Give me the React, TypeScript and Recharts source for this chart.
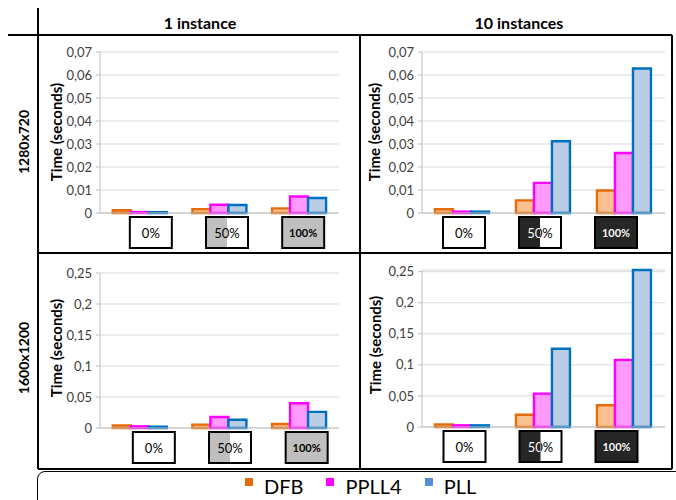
import React from 'react';
import { BarChart, Bar, XAxis, YAxis, CartesianGrid } from 'recharts';

const categories = ['0%', '50%', '100%'];
const seriesNames = ['DFB', 'PPLL4', 'PLL'];
const seriesStroke = ['#E46C0A', '#FF00FF', '#0070C0'];
const seriesFill = ['#FAC090', '#FF99FF', '#B9CDE5'];
const legendColors = ['#E46C0A', '#FF00FF', '#558ED5'];

const columnLabels = ['1 instance', '10 instances'];
const rowLabels = ['1280x720', '1600x1200'];
const axisTitle = 'Time (seconds)';

const ticks1280 = [0, 0.01, 0.02, 0.03, 0.04, 0.05, 0.06, 0.07];
const ticks1600 = [0, 0.05, 0.1, 0.15, 0.2, 0.25];

const dfb1280x1 = [0.0012, 0.0017, 0.002];
const ppll41280x1 = [0.0004, 0.0036, 0.0072];
const pll1280x1 = [0.0004, 0.0035, 0.0065];

const dfb1280x10 = [0.0016, 0.0055, 0.0098];
const ppll41280x10 = [0.0006, 0.0131, 0.0261];
const pll1280x10 = [0.0006, 0.0312, 0.0628];

const dfb1600x1 = [0.0043, 0.0054, 0.0065];
const ppll41600x1 = [0.0027, 0.0177, 0.04];
const pll1600x1 = [0.002, 0.0134, 0.026];

const dfb1600x10 = [0.0043, 0.0197, 0.035];
const ppll41600x10 = [0.0027, 0.0537, 0.108];
const pll1600x10 = [0.0027, 0.126, 0.2527];

const FONT = 'Lato, "Open Sans", sans-serif';

function build(a: number[], b: number[], c: number[]) {
  return categories.map((cat, i) => ({ cat, DFB: a[i], PPLL4: b[i], PLL: c[i] }));
}

const fmt = (v: number) => (v === 0 ? '0' : String(+v.toFixed(3)).replace('.', ','));

const BoxTick = (props: any) => {
  const { x, y, payload, dark, offsets, pid } = props;
  const label = String(payload.value);
  const index = typeof props.index === 'number' ? props.index : categories.indexOf(label);
  const w = 42;
  const h = 31;
  const cx = x + (offsets[index] || 0);
  const left = cx - w / 2;
  const top = y + 4;
  const frac = label === '0%' ? 0 : label === '50%' ? 0.5 : 1;
  const bold = label === '100%';
  const fs = bold ? 11 : 13;
  const fillCol = dark ? '#262626' : '#BFBFBF';
  const clipId = `clip-${pid}-${index}`;
  return (
    <g>
      <rect x={left} y={top} width={w} height={h} fill="#fff" />
      {frac > 0 && <rect x={left} y={top} width={w * frac} height={h} fill={fillCol} />}
      <defs>
        <clipPath id={clipId}>
          <rect x={left} y={top} width={w * frac} height={h} />
        </clipPath>
      </defs>
      <text x={cx} y={top + h / 2} textAnchor="middle" dominantBaseline="central" fontSize={fs}
        fontWeight={bold ? 700 : 400} fill="#000" fontFamily={FONT}>{label}</text>
      {dark && frac > 0 && (
        <text x={cx} y={top + h / 2} textAnchor="middle" dominantBaseline="central" fontSize={fs}
          fontWeight={bold ? 700 : 400} fill="#fff" fontFamily={FONT} clipPath={`url(#${clipId})`}>{label}</text>
      )}
      <rect x={left} y={top} width={w} height={h} fill="none" stroke="#000" strokeWidth={2} />
    </g>
  );
};

type PanelProps = {
  pid: string; left: number; top: number; width: number; height: number;
  margin: { top: number; right: number; bottom: number; left: number };
  data: any[]; ticks: number[]; dark: boolean; offsets: number[];
};

const Panel = ({ pid, left, top, width, height, margin, data, ticks, dark, offsets }: PanelProps) => (
  <div style={{ position: 'absolute', left, top, width, height }}>
    <BarChart width={width} height={height} data={data} margin={margin} barCategoryGap="16%" barGap={0}>
      <CartesianGrid vertical={false} stroke="#D9D9D9" />
      <XAxis dataKey="cat" height={35} axisLine={{ stroke: '#BFBFBF' }} tickLine={false} tickSize={0} tickMargin={0}
        interval={0} tick={<BoxTick dark={dark} offsets={offsets} pid={pid} />} />
      <YAxis width={42} domain={[0, ticks[ticks.length - 1]]} ticks={ticks} tickFormatter={fmt}
        axisLine={{ stroke: '#BFBFBF' }} tickLine={{ stroke: '#BFBFBF' }} tickSize={4} tickMargin={4}
        tick={{ fontSize: 13, fill: '#404040', fontFamily: FONT }} interval={0} />
      {seriesNames.map((s, i) => (
        <Bar key={s} dataKey={s} fill={seriesFill[i]} stroke={seriesStroke[i]} strokeWidth={2.4} isAnimationActive={false} />
      ))}
    </BarChart>
  </div>
);

export default function App() {
  return (
    <div style={{ position: 'absolute', left: 0, top: 0, width: 676, height: 500, background: '#fff', fontFamily: FONT, overflow: 'hidden' }}>
      <Panel pid="tl" left={38} top={36} width={322} height={216}
        margin={{ top: 16, right: 21, bottom: 4, left: 20 }}
        data={build(dfb1280x1, ppll41280x1, pll1280x1)} ticks={ticks1280} dark={false} offsets={[11, 7.5, 4]} />
      <Panel pid="tr" left={361} top={36} width={311} height={216}
        margin={{ top: 16, right: 7, bottom: 4, left: 19 }}
        data={build(dfb1280x10, ppll41280x10, pll1280x10)} ticks={ticks1280} dark={true} offsets={[1.5, -3.5, -8.5]} />
      <Panel pid="bl" left={38} top={254} width={322} height={214}
        margin={{ top: 19, right: 21, bottom: 5, left: 20 }}
        data={build(dfb1600x1, ppll41600x1, pll1600x1)} ticks={ticks1600} dark={false} offsets={[14, 10.5, 7.5]} />
      <Panel pid="br" left={361} top={254} width={311} height={214}
        margin={{ top: 16, right: 7, bottom: 6, left: 19 }}
        data={build(dfb1600x10, ppll41600x10, pll1600x10)} ticks={ticks1600} dark={true} offsets={[2, -3, -8]} />

      <svg width={676} height={500} style={{ position: 'absolute', left: 0, top: 0, pointerEvents: 'none' }}>
        <g stroke="#000" strokeWidth={2} fill="none">
          <path d="M8,35 H672" />
          <path d="M38,8 V469" />
          <path d="M360,35 V469" />
          <path d="M672,35 V469" />
          <path d="M38,253 H672" />
          <path d="M38,469 H672" />
        </g>
        <text x={200} y={22} textAnchor="middle" dominantBaseline="central" fontSize={16} fontWeight={700} fontFamily={FONT}>{columnLabels[0]}</text>
        <text x={519} y={22} textAnchor="middle" dominantBaseline="central" fontSize={16} fontWeight={700} fontFamily={FONT}>{columnLabels[1]}</text>
        <text transform="translate(23,142) rotate(-90)" textAnchor="middle" dominantBaseline="central" fontSize={14} fontWeight={700} fontFamily={FONT}>{rowLabels[0]}</text>
        <text transform="translate(23,358) rotate(-90)" textAnchor="middle" dominantBaseline="central" fontSize={14} fontWeight={700} fontFamily={FONT}>{rowLabels[1]}</text>
        <text transform="translate(56,132) rotate(-90)" textAnchor="middle" dominantBaseline="central" fontSize={15} fontWeight={700} fontFamily={FONT}>{axisTitle}</text>
        <text transform="translate(374,132) rotate(-90)" textAnchor="middle" dominantBaseline="central" fontSize={15} fontWeight={700} fontFamily={FONT}>{axisTitle}</text>
        <text transform="translate(56,348) rotate(-90)" textAnchor="middle" dominantBaseline="central" fontSize={15} fontWeight={700} fontFamily={FONT}>{axisTitle}</text>
        <text transform="translate(375,345) rotate(-90)" textAnchor="middle" dominantBaseline="central" fontSize={15} fontWeight={700} fontFamily={FONT}>{axisTitle}</text>
      </svg>

      <div style={{ position: 'absolute', left: 37, top: 471, width: 660, height: 50, border: '1.5px solid #000', borderRadius: 8, boxSizing: 'border-box' }} />
      <div style={{ position: 'absolute', left: 245, top: 474, display: 'flex', alignItems: 'flex-start', fontSize: 20, lineHeight: '24px', color: '#000', fontFamily: FONT, whiteSpace: 'nowrap' }}>
        {seriesNames.map((s, i) => (
          <div key={s} style={{ display: 'flex', alignItems: 'flex-start', marginRight: i < seriesNames.length - 1 ? 23 : 0 }}>
            <div style={{ width: 8, height: 8, background: legendColors[i], marginTop: 4, marginRight: 11 }} />
            <span>{s}</span>
          </div>
        ))}
      </div>
    </div>
  );
}
